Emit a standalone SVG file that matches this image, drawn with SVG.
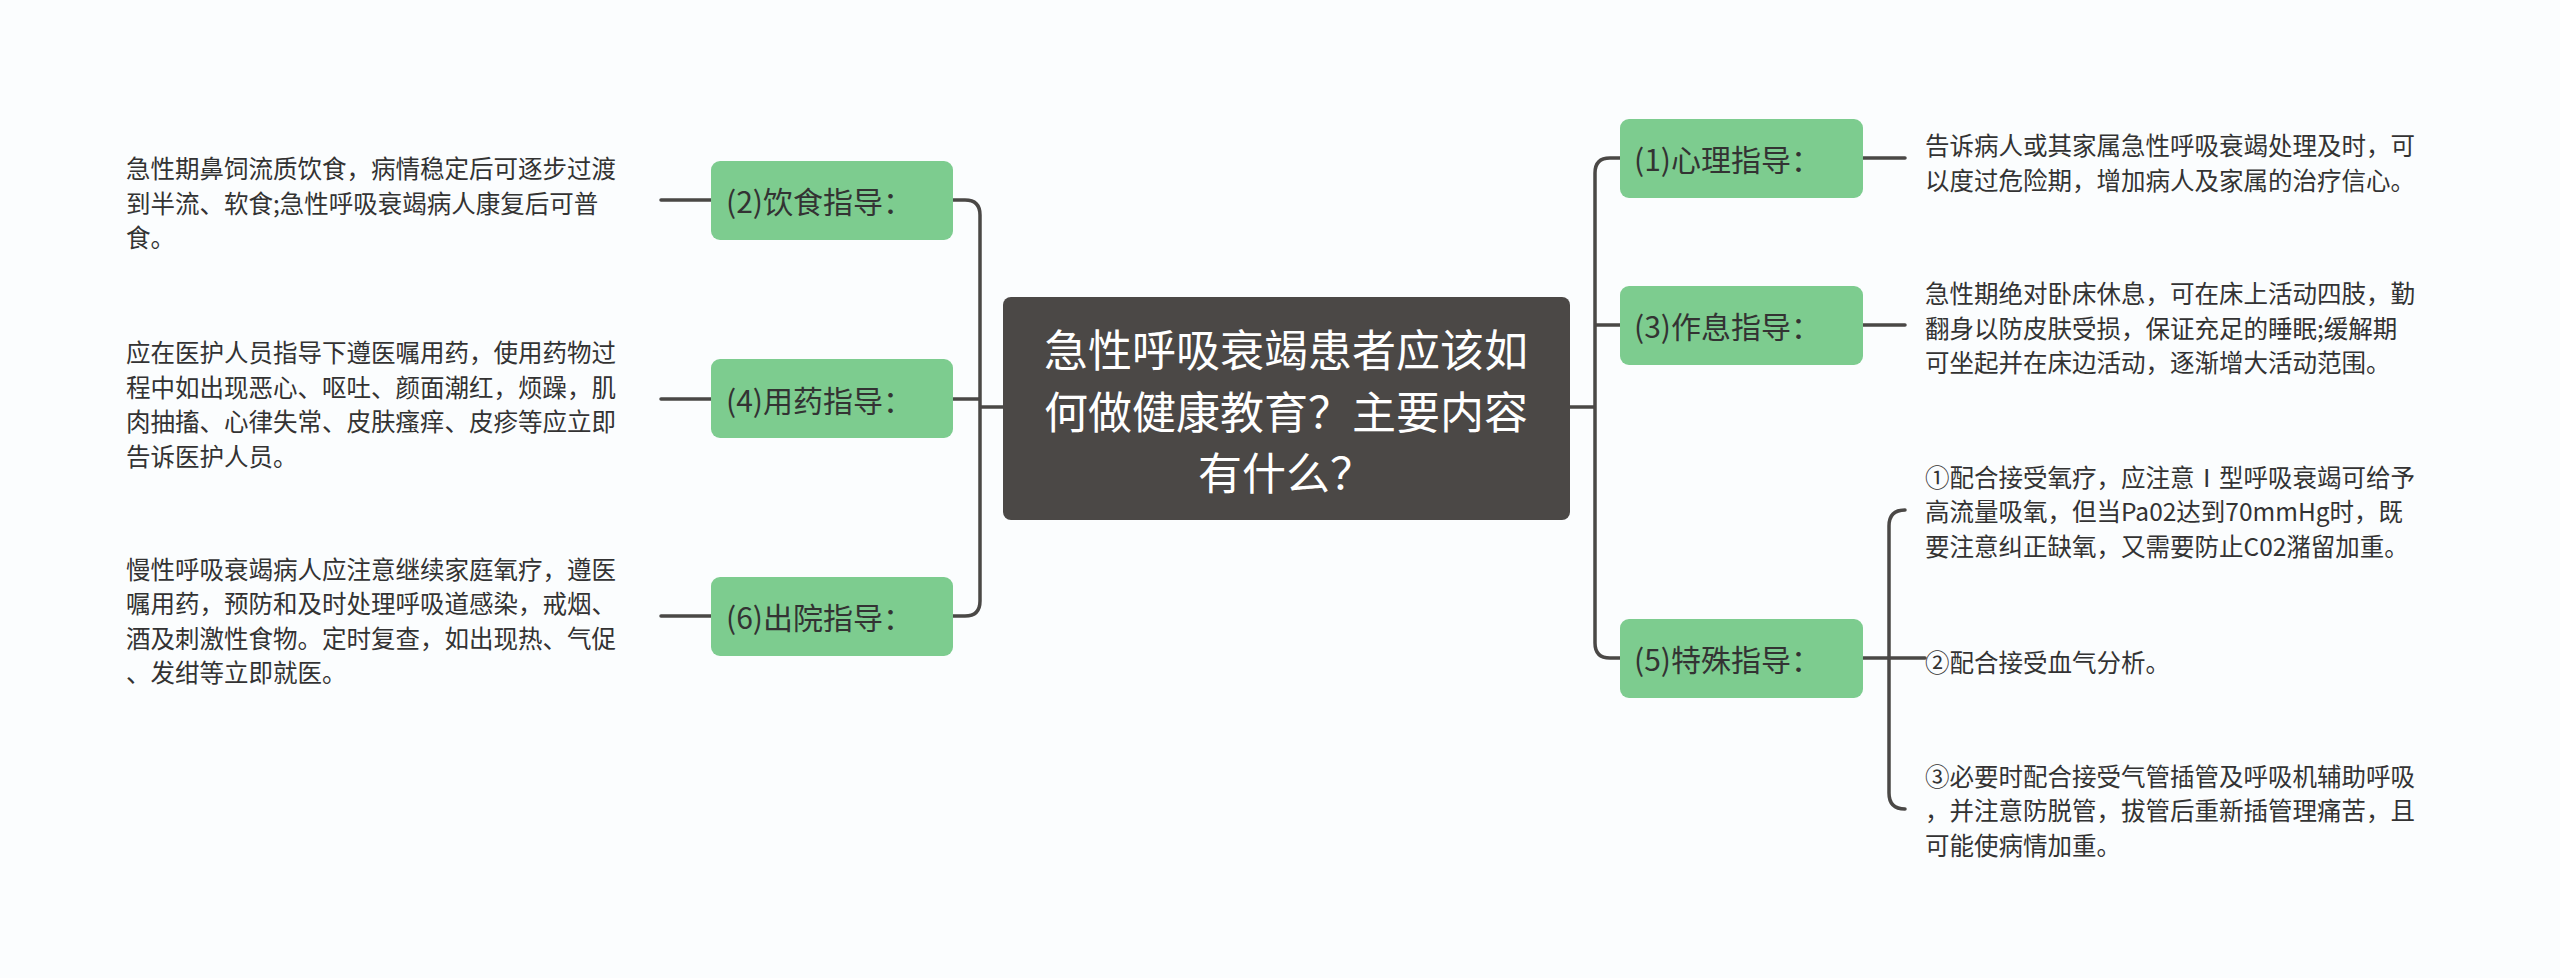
<svg xmlns="http://www.w3.org/2000/svg" width="2560" height="978" viewBox="0 0 2560 978">
<style>
.bg{fill:#fbfdfe}
.c{fill:none;stroke:#4a4846;stroke-width:3.5;stroke-linecap:round}
.n{fill:#7dcc8f}
.nt{font-family:"Noto Sans CJK SC",sans-serif;font-size:30px;fill:#333;dominant-baseline:central}
.t{font-family:"Noto Sans CJK SC",sans-serif;font-size:24.5px;fill:#333;dominant-baseline:central}
.ct{font-family:"Noto Sans CJK SC",sans-serif;font-size:44px;fill:#fff;dominant-baseline:central;text-anchor:middle}
</style>
<rect class="bg" width="2560" height="978"/>
<g id="connectors">
<path class="c" d="M1003 407 H980 M953 200 H965 Q980 200 980 215 V601 Q980 616 965 616 H953 M953 399 H980"/>
<path class="c" d="M661 200 H711 M661 399 H711 M661 616 H711"/>
<path class="c" d="M1570 407 H1595 M1620 158 H1610 Q1595 158 1595 173 V643 Q1595 658 1610 658 H1620 M1595 325 H1620"/>
<path class="c" d="M1863 158 H1905 M1863 325 H1905 M1863 658 H1925 M1905 510 Q1889 510 1889 526 V793 Q1889 809 1905 809"/>
</g>
<g id="center"><rect x="1003" y="297" width="567" height="223" rx="8" fill="#4b4846"/>
<text class="ct" x="1286" y="348">急性呼吸衰竭患者应该如</text>
<text class="ct" x="1286" y="410">何做健康教育？主要内容</text>
<text class="ct" x="1286" y="471">有什么？</text></g>
<g id="n2"><rect class="n" x="711" y="161" width="242" height="79" rx="9"/><text class="nt" x="726" y="200">(2)饮食指导：</text></g>
<g id="n4"><rect class="n" x="711" y="359" width="242" height="79" rx="9"/><text class="nt" x="726" y="399">(4)用药指导：</text></g>
<g id="n6"><rect class="n" x="711" y="577" width="242" height="79" rx="9"/><text class="nt" x="726" y="616">(6)出院指导：</text></g>
<g id="n1"><rect class="n" x="1620" y="119" width="243" height="79" rx="9"/><text class="nt" x="1634" y="158">(1)心理指导：</text></g>
<g id="n3"><rect class="n" x="1620" y="286" width="243" height="79" rx="9"/><text class="nt" x="1634" y="325">(3)作息指导：</text></g>
<g id="n5"><rect class="n" x="1620" y="619" width="243" height="79" rx="9"/><text class="nt" x="1634" y="658">(5)特殊指导：</text></g>
<g id="t2"><text class="t" x="126" y="167">急性期鼻饲流质饮食，病情稳定后可逐步过渡</text><text class="t" x="126" y="202">到半流、软食;急性呼吸衰竭病人康复后可普</text><text class="t" x="126" y="236">食。</text></g>
<g id="t4"><text class="t" x="126" y="351">应在医护人员指导下遵医嘱用药，使用药物过</text><text class="t" x="126" y="386">程中如出现恶心、呕吐、颜面潮红，烦躁，肌</text><text class="t" x="126" y="420">肉抽搐、心律失常、皮肤瘙痒、皮疹等应立即</text><text class="t" x="126" y="455">告诉医护人员。</text></g>
<g id="t6"><text class="t" x="126" y="568">慢性呼吸衰竭病人应注意继续家庭氧疗，遵医</text><text class="t" x="126" y="602">嘱用药，预防和及时处理呼吸道感染，戒烟、</text><text class="t" x="126" y="637">酒及刺激性食物。定时复查，如出现热、气促</text><text class="t" x="126" y="671">、发绀等立即就医。</text></g>
<g id="t1"><text class="t" x="1925" y="144">告诉病人或其家属急性呼吸衰竭处理及时，可</text><text class="t" x="1925" y="179">以度过危险期，增加病人及家属的治疗信心。</text></g>
<g id="t3"><text class="t" x="1925" y="292">急性期绝对卧床休息，可在床上活动四肢，勤</text><text class="t" x="1925" y="327">翻身以防皮肤受损，保证充足的睡眠;缓解期</text><text class="t" x="1925" y="361">可坐起并在床边活动，逐渐增大活动范围。</text></g>
<g id="t5a"><text class="t" x="1925" y="476">①配合接受氧疗，应注意Ⅰ型呼吸衰竭可给予</text><text class="t" x="1925" y="510">高流量吸氧，但当Pa02达到70mmHg时，既</text><text class="t" x="1925" y="545">要注意纠正缺氧，又需要防止C02潴留加重。</text></g>
<g id="t5b"><text class="t" x="1925" y="661">②配合接受血气分析。</text></g>
<g id="t5c"><text class="t" x="1925" y="775">③必要时配合接受气管插管及呼吸机辅助呼吸</text><text class="t" x="1925" y="809">，并注意防脱管，拔管后重新插管理痛苦，且</text><text class="t" x="1925" y="844">可能使病情加重。</text></g>
</svg>
